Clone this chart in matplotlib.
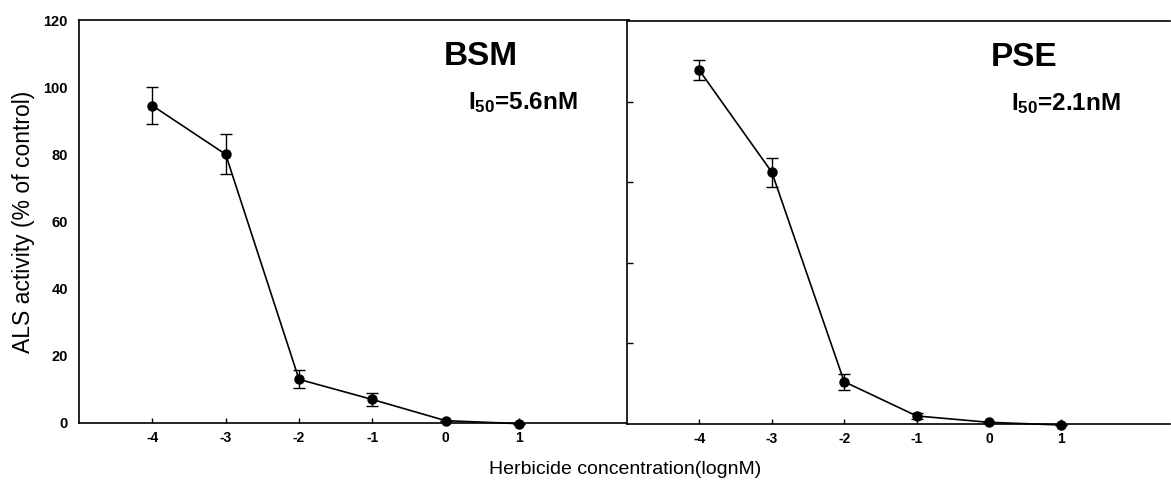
import matplotlib
matplotlib.use("Agg")
import matplotlib.pyplot as plt

plt.rcParams['font.family'] = ['Liberation Sans', 'DejaVu Sans']
plt.rcParams['mathtext.fontset'] = 'custom'
plt.rcParams['mathtext.rm'] = 'Liberation Sans'
plt.rcParams['mathtext.bf'] = 'Liberation Sans:bold'

# log concentration (lognM)
conc = [-4, -3, -2, -1, 0, 1]

# BSM: ALS activity (% of control) and standard error
bsm_mean = [94.5, 80.0, 13.0, 7.0, 0.7, -0.2]
bsm_err = [5.5, 6.0, 2.7, 1.9, 0.0, 0.0]

# PSE: ALS activity (% of control) and standard error
pse_mean = [105.3, 75.0, 12.6, 2.4, 0.5, -0.3]
pse_err = [3.0, 4.3, 2.4, 1.0, 0.0, 0.0]

xticks = [-4, -3, -2, -1, 0, 1]
yticks_left = [0, 20, 40, 60, 80, 100, 120]
yticks_right = [24, 48, 72, 96]

panels = [
    ("BSM", r"$\mathbf{I_{50}}$=5.6nM", bsm_mean, bsm_err),
    ("PSE", r"$\mathbf{I_{50}}$=2.1nM", pse_mean, pse_err),
]

fig = plt.figure(figsize=(11.71, 4.88), dpi=100)
W, H = 1171, 488
ax1 = fig.add_axes([79 / W, (H - 423) / H, (629 - 79) / W, (423 - 20) / H])
ax2 = fig.add_axes([627 / W, (H - 424) / H, (1170 - 627) / W, (424 - 21) / H])

for ax, (name, i50, mean, err) in zip([ax1, ax2], panels):
    ax.errorbar(conc, mean, yerr=err, color='black', lw=1.2, marker='o',
                markersize=6.5, capsize=4.5, elinewidth=1.0, capthick=1.0,
                clip_on=False, zorder=3)
    ax.set_xlim(-5, 2.5)
    ax.set_ylim(0, 120)
    ax.set_xticks(xticks)
    ax.set_xticklabels([str(t) for t in xticks], fontweight='bold', fontsize=10)
    ax.tick_params(axis='x', direction='in', length=3.5, width=1.0, pad=6)
    for s in ax.spines.values():
        s.set_linewidth(1.2)
    ax.text(0.48, 109, name, fontsize=24, fontweight='bold', ha='center', va='center')
    ax.text(0.3, 95.5, i50, fontsize=17.5, fontweight='bold', ha='left', va='center')

ax1.set_yticks(yticks_left)
ax1.set_yticklabels([str(t) for t in yticks_left], fontweight='bold', fontsize=10.5)
ax1.tick_params(axis='y', direction='in', length=0, pad=8)
ax1.set_ylabel("ALS activity (% of control)", fontsize=16.5, labelpad=6)

ax2.set_yticks(yticks_right)
ax2.set_yticklabels([])
ax2.tick_params(axis='y', direction='in', length=4, width=1.0)
ax2.spines['right'].set_visible(False)

fig.text(625 / W, 1 - 470 / H, "Herbicide concentration(lognM)", fontsize=14,
         ha='center', va='center')

fig.savefig("out.png", dpi=100)
